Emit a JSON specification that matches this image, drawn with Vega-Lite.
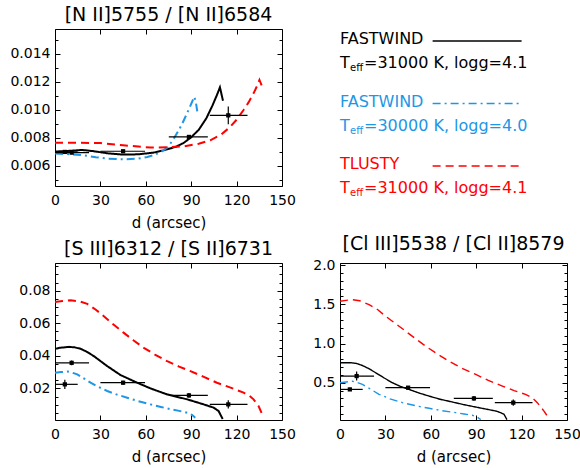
{
"$schema":"https://vega.github.io/schema/vega-lite/v6.json",
"background":"white",
"padding":{"left":9,"top":5,"right":0,"bottom":0},
"bounds":"flush",
"columns":2,
"spacing":{"row":77,"column":58},
"config":{
 "font":"DejaVu Sans",
 "view":{"stroke":null},
 "axis":{"labelFont":"DejaVu Sans","labelFontSize":14,"labelColor":"black","tickColor":"black","tickWidth":1,"domain":false,"grid":false,"labelFlush":false,"labelOverlap":false,"titleFont":"DejaVu Sans","titleFontSize":15,"titleFontWeight":"normal","titleColor":"black","tickSize":-5,"labelPadding":10},
 "axisX":{"labelPadding":12},
 "title":{"font":"DejaVu Sans","fontSize":19,"fontWeight":"normal","color":"black","offset":4,"anchor":"middle"}
},
"datasets":{
 "curves":[
  {"p":"N","m":"FW31","d":0,"v":0.00703},{"p":"N","m":"FW31","d":8,"v":0.00707},{"p":"N","m":"FW31","d":18,"v":0.00714},{"p":"N","m":"FW31","d":25,"v":0.00706},{"p":"N","m":"FW31","d":35,"v":0.0069},{"p":"N","m":"FW31","d":45,"v":0.00681},{"p":"N","m":"FW31","d":55,"v":0.00683},{"p":"N","m":"FW31","d":65,"v":0.00695},{"p":"N","m":"FW31","d":72,"v":0.00712},{"p":"N","m":"FW31","d":80,"v":0.00737},{"p":"N","m":"FW31","d":85,"v":0.00764},{"p":"N","m":"FW31","d":90,"v":0.00805},{"p":"N","m":"FW31","d":95,"v":0.00858},{"p":"N","m":"FW31","d":100,"v":0.0094},{"p":"N","m":"FW31","d":104,"v":0.0103},{"p":"N","m":"FW31","d":107,"v":0.01106},{"p":"N","m":"FW31","d":109,"v":0.01161},{"p":"N","m":"FW31","d":111,"v":0.01065},
  {"p":"N","m":"FW30","d":0,"v":0.00688},{"p":"N","m":"FW30","d":10,"v":0.00684},{"p":"N","m":"FW30","d":19,"v":0.00676},{"p":"N","m":"FW30","d":27,"v":0.00662},{"p":"N","m":"FW30","d":35,"v":0.00652},{"p":"N","m":"FW30","d":47,"v":0.00647},{"p":"N","m":"FW30","d":55,"v":0.00652},{"p":"N","m":"FW30","d":61,"v":0.00664},{"p":"N","m":"FW30","d":66,"v":0.0068},{"p":"N","m":"FW30","d":70,"v":0.007},{"p":"N","m":"FW30","d":74,"v":0.0073},{"p":"N","m":"FW30","d":76.3,"v":0.0076},{"p":"N","m":"FW30","d":79,"v":0.00805},{"p":"N","m":"FW30","d":81.8,"v":0.00855},{"p":"N","m":"FW30","d":84,"v":0.009},{"p":"N","m":"FW30","d":86.2,"v":0.00951},{"p":"N","m":"FW30","d":88.5,"v":0.01005},{"p":"N","m":"FW30","d":90.6,"v":0.01058},{"p":"N","m":"FW30","d":92,"v":0.01094},{"p":"N","m":"FW30","d":93,"v":0.0106},{"p":"N","m":"FW30","d":94,"v":0.0099},
  {"p":"N","m":"TL31","d":0,"v":0.00766},{"p":"N","m":"TL31","d":15,"v":0.00766},{"p":"N","m":"TL31","d":30,"v":0.00763},{"p":"N","m":"TL31","d":45,"v":0.00748},{"p":"N","m":"TL31","d":55,"v":0.00738},{"p":"N","m":"TL31","d":63,"v":0.00731},{"p":"N","m":"TL31","d":75,"v":0.00733},{"p":"N","m":"TL31","d":85,"v":0.0074},{"p":"N","m":"TL31","d":95,"v":0.00758},{"p":"N","m":"TL31","d":102.6,"v":0.00783},{"p":"N","m":"TL31","d":110,"v":0.00825},{"p":"N","m":"TL31","d":115.8,"v":0.00879},{"p":"N","m":"TL31","d":120,"v":0.0093},{"p":"N","m":"TL31","d":124.6,"v":0.00999},{"p":"N","m":"TL31","d":128,"v":0.01055},{"p":"N","m":"TL31","d":131.2,"v":0.01118},{"p":"N","m":"TL31","d":133.5,"v":0.0117},{"p":"N","m":"TL31","d":135.1,"v":0.01214},{"p":"N","m":"TL31","d":136.7,"v":0.01171},

  {"p":"S","m":"FW31","d":0,"v":0.0443},{"p":"S","m":"FW31","d":3,"v":0.0449},{"p":"S","m":"FW31","d":9.2,"v":0.0455},{"p":"S","m":"FW31","d":13,"v":0.0452},{"p":"S","m":"FW31","d":17,"v":0.0443},{"p":"S","m":"FW31","d":21,"v":0.0425},{"p":"S","m":"FW31","d":25.7,"v":0.0398},{"p":"S","m":"FW31","d":30,"v":0.0368},{"p":"S","m":"FW31","d":34.5,"v":0.0337},{"p":"S","m":"FW31","d":43.3,"v":0.0282},{"p":"S","m":"FW31","d":54.3,"v":0.0235},{"p":"S","m":"FW31","d":63.1,"v":0.02},{"p":"S","m":"FW31","d":74.1,"v":0.0163},{"p":"S","m":"FW31","d":87.3,"v":0.0133},{"p":"S","m":"FW31","d":98.2,"v":0.0102},{"p":"S","m":"FW31","d":104.8,"v":0.0082},{"p":"S","m":"FW31","d":108.1,"v":0.0061},{"p":"S","m":"FW31","d":110.8,"v":0.0012},
  {"p":"S","m":"FW30","d":0,"v":0.0296},{"p":"S","m":"FW30","d":4,"v":0.03},{"p":"S","m":"FW30","d":8.2,"v":0.0304},{"p":"S","m":"FW30","d":11,"v":0.0298},{"p":"S","m":"FW30","d":14.7,"v":0.0286},{"p":"S","m":"FW30","d":19,"v":0.0262},{"p":"S","m":"FW30","d":23.5,"v":0.0235},{"p":"S","m":"FW30","d":29,"v":0.0208},{"p":"S","m":"FW30","d":34.5,"v":0.0184},{"p":"S","m":"FW30","d":41,"v":0.0162},{"p":"S","m":"FW30","d":47.7,"v":0.0143},{"p":"S","m":"FW30","d":55,"v":0.0122},{"p":"S","m":"FW30","d":63,"v":0.0102},{"p":"S","m":"FW30","d":70,"v":0.0086},{"p":"S","m":"FW30","d":76.3,"v":0.0072},{"p":"S","m":"FW30","d":82,"v":0.0062},{"p":"S","m":"FW30","d":87.3,"v":0.0051},{"p":"S","m":"FW30","d":90.5,"v":0.0038},{"p":"S","m":"FW30","d":92.7,"v":0.002},
  {"p":"S","m":"TL31","d":0,"v":0.0731},{"p":"S","m":"TL31","d":5,"v":0.0736},{"p":"S","m":"TL31","d":10.3,"v":0.0741},{"p":"S","m":"TL31","d":16,"v":0.0735},{"p":"S","m":"TL31","d":21.3,"v":0.0719},{"p":"S","m":"TL31","d":27,"v":0.0683},{"p":"S","m":"TL31","d":32.3,"v":0.0643},{"p":"S","m":"TL31","d":38,"v":0.0597},{"p":"S","m":"TL31","d":45.5,"v":0.0541},{"p":"S","m":"TL31","d":52,"v":0.0494},{"p":"S","m":"TL31","d":58.7,"v":0.0449},{"p":"S","m":"TL31","d":66,"v":0.0408},{"p":"S","m":"TL31","d":74.1,"v":0.0367},{"p":"S","m":"TL31","d":82,"v":0.0334},{"p":"S","m":"TL31","d":89.5,"v":0.0306},{"p":"S","m":"TL31","d":98,"v":0.0272},{"p":"S","m":"TL31","d":107,"v":0.0235},{"p":"S","m":"TL31","d":116,"v":0.0205},{"p":"S","m":"TL31","d":124.6,"v":0.0174},{"p":"S","m":"TL31","d":128.5,"v":0.0155},{"p":"S","m":"TL31","d":131.2,"v":0.0133},{"p":"S","m":"TL31","d":134.5,"v":0.0092},{"p":"S","m":"TL31","d":137.4,"v":0.0031},

  {"p":"C","m":"FW31","d":0,"v":0.755},{"p":"C","m":"FW31","d":7.1,"v":0.755},{"p":"C","m":"FW31","d":11,"v":0.745},{"p":"C","m":"FW31","d":14.8,"v":0.72},{"p":"C","m":"FW31","d":19,"v":0.68},{"p":"C","m":"FW31","d":23.6,"v":0.627},{"p":"C","m":"FW31","d":29,"v":0.563},{"p":"C","m":"FW31","d":34.6,"v":0.5},{"p":"C","m":"FW31","d":40,"v":0.452},{"p":"C","m":"FW31","d":45.6,"v":0.415},{"p":"C","m":"FW31","d":52,"v":0.37},{"p":"C","m":"FW31","d":58.8,"v":0.33},{"p":"C","m":"FW31","d":66,"v":0.29},{"p":"C","m":"FW31","d":74.3,"v":0.254},{"p":"C","m":"FW31","d":82,"v":0.22},{"p":"C","m":"FW31","d":89.7,"v":0.19},{"p":"C","m":"FW31","d":97,"v":0.162},{"p":"C","m":"FW31","d":102.9,"v":0.14},{"p":"C","m":"FW31","d":106,"v":0.12},{"p":"C","m":"FW31","d":108.4,"v":0.097},{"p":"C","m":"FW31","d":110.3,"v":0.03},
  {"p":"C","m":"FW30","d":0,"v":0.5},{"p":"C","m":"FW30","d":4,"v":0.51},{"p":"C","m":"FW30","d":8.2,"v":0.52},{"p":"C","m":"FW30","d":11,"v":0.505},{"p":"C","m":"FW30","d":14.8,"v":0.479},{"p":"C","m":"FW30","d":20,"v":0.42},{"p":"C","m":"FW30","d":25.8,"v":0.352},{"p":"C","m":"FW30","d":33,"v":0.295},{"p":"C","m":"FW30","d":41.3,"v":0.246},{"p":"C","m":"FW30","d":50,"v":0.207},{"p":"C","m":"FW30","d":58.9,"v":0.174},{"p":"C","m":"FW30","d":67,"v":0.145},{"p":"C","m":"FW30","d":76.5,"v":0.119},{"p":"C","m":"FW30","d":82,"v":0.102},{"p":"C","m":"FW30","d":87.5,"v":0.085},{"p":"C","m":"FW30","d":90.5,"v":0.065},{"p":"C","m":"FW30","d":93,"v":0.03},
  {"p":"C","m":"TL31","d":0,"v":1.538},{"p":"C","m":"TL31","d":4,"v":1.55},{"p":"C","m":"TL31","d":8.2,"v":1.559},{"p":"C","m":"TL31","d":13,"v":1.545},{"p":"C","m":"TL31","d":19.2,"v":1.496},{"p":"C","m":"TL31","d":25,"v":1.43},{"p":"C","m":"TL31","d":30.2,"v":1.347},{"p":"C","m":"TL31","d":37,"v":1.25},{"p":"C","m":"TL31","d":43.4,"v":1.156},{"p":"C","m":"TL31","d":50,"v":1.06},{"p":"C","m":"TL31","d":56.6,"v":0.966},{"p":"C","m":"TL31","d":64,"v":0.87},{"p":"C","m":"TL31","d":72,"v":0.775},{"p":"C","m":"TL31","d":80,"v":0.69},{"p":"C","m":"TL31","d":89.7,"v":0.606},{"p":"C","m":"TL31","d":98,"v":0.53},{"p":"C","m":"TL31","d":107.3,"v":0.457},{"p":"C","m":"TL31","d":115,"v":0.4},{"p":"C","m":"TL31","d":122.6,"v":0.352},{"p":"C","m":"TL31","d":127,"v":0.31},{"p":"C","m":"TL31","d":130.4,"v":0.246},{"p":"C","m":"TL31","d":134.8,"v":0.139},{"p":"C","m":"TL31","d":137.7,"v":0.055}
 ],
 "obs":[
  {"p":"N","d":6.5,"v":0.007,"lo":0.0069,"hi":0.0071,"dlo":0,"dhi":15},
  {"p":"N","d":11,"v":0.00695,"lo":0.00683,"hi":0.00707,"dlo":0,"dhi":22.5},
  {"p":"N","d":45,"v":0.00705,"lo":0.00697,"hi":0.00713,"dlo":30,"dhi":59.5},
  {"p":"N","d":88.5,"v":0.00807,"lo":0.00797,"hi":0.00817,"dlo":75.2,"dhi":101},
  {"p":"N","d":114.5,"v":0.00961,"lo":0.00898,"hi":0.01024,"dlo":102.3,"dhi":127.2},
  {"p":"S","d":6.5,"v":0.0225,"lo":0.0197,"hi":0.0253,"dlo":0,"dhi":15},
  {"p":"S","d":11,"v":0.0357,"lo":0.0342,"hi":0.0372,"dlo":0,"dhi":22.5},
  {"p":"S","d":45,"v":0.0235,"lo":0.0223,"hi":0.0247,"dlo":30,"dhi":59.5},
  {"p":"S","d":88.5,"v":0.0157,"lo":0.0142,"hi":0.0172,"dlo":75.2,"dhi":101},
  {"p":"S","d":114.5,"v":0.0102,"lo":0.0077,"hi":0.0127,"dlo":102.3,"dhi":127.2},
  {"p":"C","d":6.5,"v":0.415,"lo":0.395,"hi":0.435,"dlo":0,"dhi":15},
  {"p":"C","d":11,"v":0.585,"lo":0.528,"hi":0.642,"dlo":0,"dhi":22.5},
  {"p":"C","d":45,"v":0.437,"lo":0.425,"hi":0.449,"dlo":30,"dhi":59.5},
  {"p":"C","d":88.5,"v":0.3,"lo":0.27,"hi":0.33,"dlo":75.2,"dhi":101},
  {"p":"C","d":114.5,"v":0.246,"lo":0.206,"hi":0.286,"dlo":102.3,"dhi":127.2}
 ],
 "legend":[
  {"m":"FW31","name":"FASTWIND","teff":"=31000 K, logg=4.1"},
  {"m":"FW30","name":"FASTWIND","teff":"=30000 K, logg=4.0"},
  {"m":"TL31","name":"TLUSTY","teff":"=31000 K, logg=4.1"}
 ]
},
"concat":[
  {"width":227,"height":157,"view":{"stroke":"black","strokeWidth":1},
   "title":"[N II]5755 / [N II]6584",
   "layer":[
    {"data":{"name":"curves"},"transform":[{"filter":"datum.p==='N'"}],
     "mark":{"type":"line","strokeWidth":2,"clip":true},
     "encoding":{
      "x":{"field":"d","type":"quantitative","scale":{"domain":[0,150],"nice":false,"zero":false},"axis":{"orient":"bottom","values":[0,30,60,90,120,150],"title":"d (arcsec)","titlePadding":8}},
      "y":{"field":"v","type":"quantitative","scale":{"domain":[0.00457,0.01577],"nice":false,"zero":false},"axis":{"orient":"left","values":[0.006,0.008,0.01,0.012,0.014],"format":".3f","title":null}},
      "color":{"field":"m","type":"nominal","scale":{"domain":["FW31","FW30","TL31"],"range":["black","#1e96e6","#ff0000"]},"legend":null},
      "strokeDash":{"field":"m","type":"nominal","scale":{"domain":["FW31","FW30","TL31"],"range":[[1,0],[8,4,2,4],[8,5]]},"legend":null}
     }},
    {"data":{"name":"obs"},"transform":[{"filter":"datum.p==='N'"}],
     "mark":{"type":"rule","color":"black","strokeWidth":1.2},
     "encoding":{"x":{"field":"dlo","type":"quantitative","axis":null},"x2":{"field":"dhi"},
      "y":{"field":"v","type":"quantitative","axis":{"orient":"left","values":[0.005,0.007,0.009,0.011,0.013,0.015],"labels":false,"tickSize":-3,"title":null}}}},
    {"data":{"name":"obs"},"transform":[{"filter":"datum.p==='N'"}],
     "mark":{"type":"rule","color":"black","strokeWidth":1.2},
     "encoding":{"x":{"field":"d","type":"quantitative","axis":null},
      "y":{"field":"lo","type":"quantitative","axis":{"orient":"right","values":[0.005,0.007,0.009,0.011,0.013,0.015],"labels":false,"tickSize":-3,"title":null}},"y2":{"field":"hi"}}},
    {"data":{"name":"obs"},"transform":[{"filter":"datum.p==='N'"}],
     "mark":{"type":"square","filled":true,"size":18,"color":"black","opacity":1},
     "encoding":{"x":{"field":"d","type":"quantitative","axis":{"orient":"top","values":[0,30,60,90,120,150],"labels":false,"title":null}},
      "y":{"field":"v","type":"quantitative","axis":{"orient":"right","values":[0.006,0.008,0.01,0.012,0.014],"labels":false,"title":null}}}}
   ],
   "resolve":{"axis":{"x":"independent","y":"independent"}}
  },
  {"width":227,"height":157,"view":{"stroke":null},
   "data":{"name":"legend"},
   "encoding":{
    "y":{"field":"m","type":"nominal","scale":{"type":"point","domain":["FW31","FW30","TL31"],"range":[22,147],"padding":0},"axis":null},
    "color":{"field":"m","type":"nominal","scale":{"domain":["FW31","FW30","TL31"],"range":["black","#1e96e6","#ff0000"]},"legend":null}
   },
   "layer":[
    {"mark":{"type":"text","align":"left","baseline":"middle","fontSize":16,"dy":-12},
     "encoding":{"x":{"datum":0,"type":"quantitative","scale":{"domain":[0,1]},"axis":null},"text":{"field":"name"}}},
    {"mark":{"type":"text","align":"left","baseline":"middle","fontSize":16,"dy":12},
     "encoding":{"x":{"datum":0,"type":"quantitative","axis":null},"text":{"value":"T"}}},
    {"mark":{"type":"text","align":"left","baseline":"middle","fontSize":10,"dy":17,"dx":10},
     "encoding":{"x":{"datum":0,"type":"quantitative","axis":null},"text":{"value":"eff"}}},
    {"mark":{"type":"text","align":"left","baseline":"middle","fontSize":16,"dy":12,"dx":24},
     "encoding":{"x":{"datum":0,"type":"quantitative","axis":null},"text":{"field":"teff"}}},
    {"mark":{"type":"rule","strokeWidth":1.3},
     "encoding":{"x":{"datum":0.408,"type":"quantitative","axis":null},"x2":{"datum":0.8},"yOffset":{"value":-10},
      "strokeDash":{"field":"m","type":"nominal","scale":{"domain":["FW31","FW30","TL31"],"range":[[1,0],[6,4,2,4],[7,6]]},"legend":null}}}
   ]
  },
  {"width":227,"height":157,"view":{"stroke":"black","strokeWidth":1},
   "title":"[S III]6312 / [S II]6731",
   "layer":[
    {"data":{"name":"curves"},"transform":[{"filter":"datum.p==='S'"}],
     "mark":{"type":"line","strokeWidth":2,"clip":true},
     "encoding":{
      "x":{"field":"d","type":"quantitative","scale":{"domain":[0,150],"nice":false,"zero":false},"axis":{"orient":"bottom","values":[0,30,60,90,120,150],"title":"d (arcsec)","titlePadding":8}},
      "y":{"field":"v","type":"quantitative","scale":{"domain":[0.0006,0.097],"nice":false,"zero":false},"axis":{"orient":"left","values":[0.02,0.04,0.06,0.08],"format":".2f","title":null}},
      "color":{"field":"m","type":"nominal","scale":{"domain":["FW31","FW30","TL31"],"range":["black","#1e96e6","#ff0000"]},"legend":null},
      "strokeDash":{"field":"m","type":"nominal","scale":{"domain":["FW31","FW30","TL31"],"range":[[1,0],[8,4,2,4],[8,5]]},"legend":null}
     }},
    {"data":{"name":"obs"},"transform":[{"filter":"datum.p==='S'"}],
     "mark":{"type":"rule","color":"black","strokeWidth":1.2},
     "encoding":{"x":{"field":"dlo","type":"quantitative","axis":null},"x2":{"field":"dhi"},
      "y":{"field":"v","type":"quantitative","axis":{"orient":"left","values":[0.005,0.01,0.015,0.025,0.03,0.035,0.045,0.05,0.055,0.065,0.07,0.075,0.085,0.09,0.095],"labels":false,"tickSize":-3,"title":null}}}},
    {"data":{"name":"obs"},"transform":[{"filter":"datum.p==='S'"}],
     "mark":{"type":"rule","color":"black","strokeWidth":1.2},
     "encoding":{"x":{"field":"d","type":"quantitative","axis":null},
      "y":{"field":"lo","type":"quantitative","axis":{"orient":"right","values":[0.005,0.01,0.015,0.025,0.03,0.035,0.045,0.05,0.055,0.065,0.07,0.075,0.085,0.09,0.095],"labels":false,"tickSize":-3,"title":null}},"y2":{"field":"hi"}}},
    {"data":{"name":"obs"},"transform":[{"filter":"datum.p==='S'"}],
     "mark":{"type":"square","filled":true,"size":18,"color":"black","opacity":1},
     "encoding":{"x":{"field":"d","type":"quantitative","axis":{"orient":"top","values":[0,30,60,90,120,150],"labels":false,"title":null}},
      "y":{"field":"v","type":"quantitative","axis":{"orient":"right","values":[0.02,0.04,0.06,0.08],"labels":false,"title":null}}}}
   ],
   "resolve":{"axis":{"x":"independent","y":"independent"}}
  },
  {"width":227,"height":157,"view":{"stroke":"black","strokeWidth":1},
   "title":"[Cl III]5538 / [Cl II]8579",
   "layer":[
    {"data":{"name":"curves"},"transform":[{"filter":"datum.p==='C'"}],
     "mark":{"type":"line","strokeWidth":1.4,"clip":true},
     "encoding":{
      "x":{"field":"d","type":"quantitative","scale":{"domain":[0,150],"nice":false,"zero":false},"axis":{"orient":"bottom","values":[0,30,60,90,120,150],"title":"d (arcsec)","titlePadding":8}},
      "y":{"field":"v","type":"quantitative","scale":{"domain":[0.025,2.026],"nice":false,"zero":false},"axis":{"orient":"left","values":[0.5,1,1.5,2],"format":".1f","title":null}},
      "color":{"field":"m","type":"nominal","scale":{"domain":["FW31","FW30","TL31"],"range":["black","#1e96e6","#ff0000"]},"legend":null},
      "strokeDash":{"field":"m","type":"nominal","scale":{"domain":["FW31","FW30","TL31"],"range":[[1,0],[8,4,2,4],[6,5]]},"legend":null}
     }},
    {"data":{"name":"obs"},"transform":[{"filter":"datum.p==='C'"}],
     "mark":{"type":"rule","color":"black","strokeWidth":1.2},
     "encoding":{"x":{"field":"dlo","type":"quantitative","axis":null},"x2":{"field":"dhi"},
      "y":{"field":"v","type":"quantitative","axis":{"orient":"left","values":[0.1,0.2,0.3,0.4,0.6,0.7,0.8,0.9,1.1,1.2,1.3,1.4,1.6,1.7,1.8,1.9],"labels":false,"tickSize":-3,"title":null}}}},
    {"data":{"name":"obs"},"transform":[{"filter":"datum.p==='C'"}],
     "mark":{"type":"rule","color":"black","strokeWidth":1.2},
     "encoding":{"x":{"field":"d","type":"quantitative","axis":null},
      "y":{"field":"lo","type":"quantitative","axis":{"orient":"right","values":[0.1,0.2,0.3,0.4,0.6,0.7,0.8,0.9,1.1,1.2,1.3,1.4,1.6,1.7,1.8,1.9],"labels":false,"tickSize":-3,"title":null}},"y2":{"field":"hi"}}},
    {"data":{"name":"obs"},"transform":[{"filter":"datum.p==='C'"}],
     "mark":{"type":"square","filled":true,"size":18,"color":"black","opacity":1},
     "encoding":{"x":{"field":"d","type":"quantitative","axis":{"orient":"top","values":[0,30,60,90,120,150],"labels":false,"title":null}},
      "y":{"field":"v","type":"quantitative","axis":{"orient":"right","values":[0.5,1,1.5,2],"labels":false,"title":null}}}}
   ],
   "resolve":{"axis":{"x":"independent","y":"independent"}}
  }
]
}
